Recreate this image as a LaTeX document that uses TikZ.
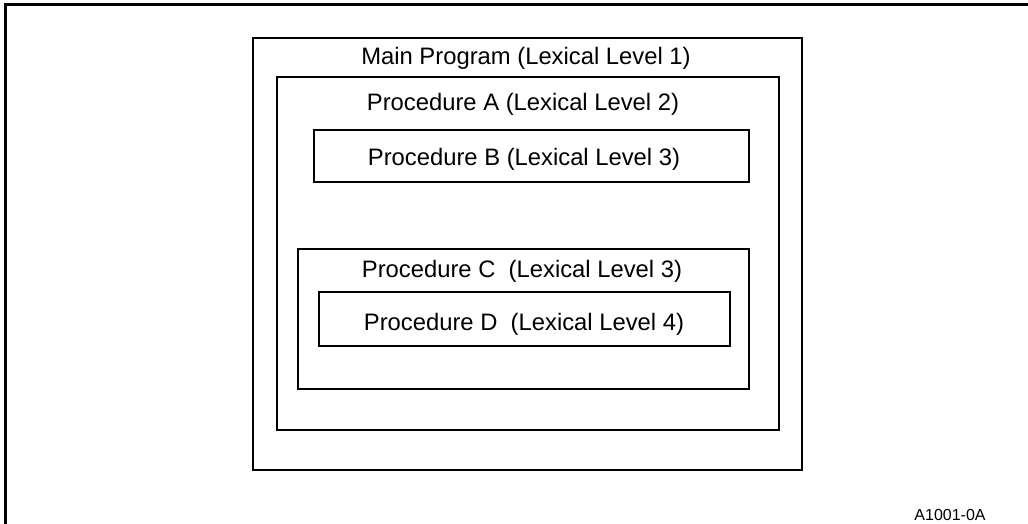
\documentclass[tikz,border=0pt]{standalone}
\usepackage{fontspec}
\setmainfont{Liberation Sans}
\usetikzlibrary{positioning}

\begin{document}
\begin{tikzpicture}[
    x=0.5pt, y=-0.5pt,
    frame/.style={line width=1.5pt},
    box/.style={draw, line width=1pt},
    label/.style={anchor=base, inner sep=0pt, font=\fontsize{11.9}{14}\selectfont},
    tag/.style={anchor=base east, inner sep=0pt, font=\fontsize{8}{10}\selectfont}
]
\useasboundingbox (0,0) rectangle (1028,524);
\draw[frame] (5.3,524) -- (5.3,4.5) -- (1028,4.5);
\draw[box] (253,38) rectangle (802,470);
\draw[box] (277,77) rectangle (779,430);
\draw[box] (314,130) rectangle (749,182);
\draw[box] (298,249) rectangle (749,389);
\draw[box] (319,292) rectangle (730,346);
\node[label] (main) at (526,65) {Main Program (Lexical Level 1)};
\node[label] (procA) at (523,111) {Procedure A (Lexical Level 2)};
\node[label] (procB) at (524,165) {Procedure B (Lexical Level 3)};
\node[label] (procC) at (522,277) {Procedure C\ \ (Lexical Level 3)};
\node[label] (procD) at (524,330) {Procedure D\ \ (Lexical Level 4)};
\node[tag] (fig) at (986,520) {A1001-0A};
\end{tikzpicture}
\end{document}
